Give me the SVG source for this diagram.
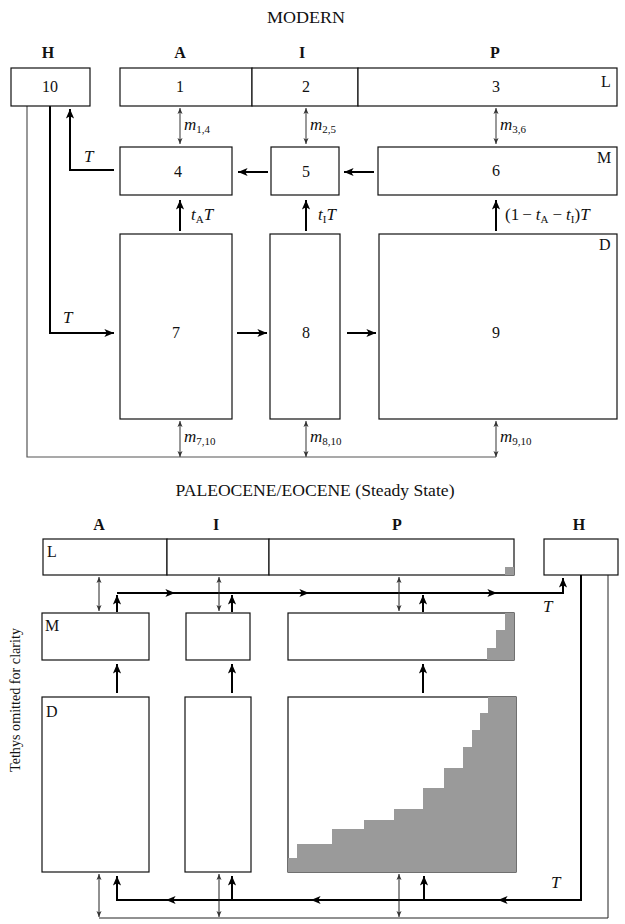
<svg xmlns="http://www.w3.org/2000/svg" width="625" height="924" viewBox="0 0 625 924">
<style>
text{font-family:"Liberation Serif","DejaVu Serif",serif;fill:#111}
.t{font-size:17px;text-anchor:middle}
.h{font-size:16px;font-weight:bold;text-anchor:middle}
.n{font-size:16px;text-anchor:middle}
.c{font-size:16px}
.m{font-size:17px}
.i{font-style:italic}
.s{font-size:11px}
.box{fill:#fff;stroke:#111;stroke-width:1.2}
.thick{fill:none;stroke:#000;stroke-width:2}
.thin{fill:none;stroke:#555;stroke-width:1.2}
.thinb{fill:none;stroke:#222;stroke-width:1}
.g{fill:#9a9a9a;stroke:none}
</style>
<defs>
<marker id="ah" markerUnits="userSpaceOnUse" markerWidth="12" markerHeight="10" refX="8" refY="4" orient="auto-start-reverse" viewBox="0 0 10 8">
<path d="M0,0.6 L8,4 L0,7.4 L2,4 Z" fill="#000"/>
</marker>
<marker id="sh" markerUnits="userSpaceOnUse" markerWidth="8" markerHeight="6" refX="5" refY="2.5" orient="auto-start-reverse" viewBox="0 0 6 5">
<path d="M0,0.4 L5,2.5 L0,4.6 L1.3,2.5 Z" fill="#333"/>
</marker>
</defs>

<!-- ===== MODERN ===== -->
<text class="t" x="306" y="23" textLength="78" lengthAdjust="spacingAndGlyphs">MODERN</text>
<g id="headers-top">
<text class="h" x="48" y="58">H</text>
<text class="h" x="180" y="58">A</text>
<text class="h" x="302" y="58">I</text>
<text class="h" x="495" y="58">P</text>
</g>

<g id="connectors-top">
<path class="thin" d="M27,106 V457 H496"/>
<path class="thick" d="M114,170 H70 V109" marker-end="url(#ah)"/>
<path class="thick" d="M50,106 V333 H114" marker-end="url(#ah)"/>
<path class="thick" d="M268,172 H238" marker-end="url(#ah)"/>
<path class="thick" d="M374,172 H344" marker-end="url(#ah)"/>
<path class="thick" d="M237,333 H267" marker-end="url(#ah)"/>
<path class="thick" d="M347,333 H376" marker-end="url(#ah)"/>
<path class="thick" d="M180,231 V200" marker-end="url(#ah)"/>
<path class="thick" d="M306,231 V200" marker-end="url(#ah)"/>
<path class="thick" d="M496,231 V200" marker-end="url(#ah)"/>
<path class="thin" d="M180,108 V144" marker-start="url(#sh)" marker-end="url(#sh)"/>
<path class="thin" d="M306,108 V144" marker-start="url(#sh)" marker-end="url(#sh)"/>
<path class="thin" d="M496,108 V144" marker-start="url(#sh)" marker-end="url(#sh)"/>
<path class="thin" d="M180,421 V457" marker-start="url(#sh)" marker-end="url(#sh)"/>
<path class="thin" d="M306,421 V457" marker-start="url(#sh)" marker-end="url(#sh)"/>
<path class="thin" d="M496,421 V457" marker-start="url(#sh)" marker-end="url(#sh)"/>
<text class="m i" x="84" y="162">T</text>
<text class="m i" x="63" y="323">T</text>
<text class="m" x="184" y="130"><tspan class="i">m</tspan><tspan class="s" dy="3">1,4</tspan></text>
<text class="m" x="310" y="130"><tspan class="i">m</tspan><tspan class="s" dy="3">2,5</tspan></text>
<text class="m" x="500" y="130"><tspan class="i">m</tspan><tspan class="s" dy="3">3,6</tspan></text>
<text class="m" x="184" y="442"><tspan class="i">m</tspan><tspan class="s" dy="3">7,10</tspan></text>
<text class="m" x="310" y="442"><tspan class="i">m</tspan><tspan class="s" dy="3">8,10</tspan></text>
<text class="m" x="500" y="442"><tspan class="i">m</tspan><tspan class="s" dy="3">9,10</tspan></text>
<text class="m" x="191" y="220"><tspan class="i">t</tspan><tspan class="s" dy="3">A</tspan><tspan class="i" dy="-3">T</tspan></text>
<text class="m" x="318" y="220"><tspan class="i">t</tspan><tspan class="s" dy="3">I</tspan><tspan class="i" dy="-3">T</tspan></text>
<text class="m" x="505" y="220">(1<tspan dx="3">−</tspan><tspan class="i" dx="4">t</tspan><tspan class="s" dy="3">A</tspan><tspan dx="4" dy="-3">−</tspan><tspan class="i" dx="4">t</tspan><tspan class="s" dy="3">I</tspan><tspan dy="-3">)</tspan><tspan class="i">T</tspan></text>
</g>

<g id="n10"><rect class="box" x="11" y="68" width="79" height="38"/><text class="n" x="50" y="92">10</text></g>
<g id="n1"><rect class="box" x="120" y="68" width="132" height="38"/><text class="n" x="180" y="92">1</text></g>
<g id="n2"><rect class="box" x="252" y="68" width="106" height="38"/><text class="n" x="306" y="92">2</text></g>
<g id="n3"><rect class="box" x="358" y="68" width="259" height="38"/><text class="n" x="496" y="92">3</text><text class="c" x="601" y="87">L</text></g>
<g id="n4"><rect class="box" x="120" y="147" width="112" height="48"/><text class="n" x="178" y="177">4</text></g>
<g id="n5"><rect class="box" x="271" y="147" width="68" height="48"/><text class="n" x="306" y="177">5</text></g>
<g id="n6"><rect class="box" x="378" y="147" width="239" height="48"/><text class="n" x="496" y="176">6</text><text class="c" x="597" y="163">M</text></g>
<g id="n7"><rect class="box" x="120" y="234" width="112" height="185"/><text class="n" x="176" y="338">7</text></g>
<g id="n8"><rect class="box" x="270" y="234" width="70" height="185"/><text class="n" x="306" y="338">8</text></g>
<g id="n9"><rect class="box" x="379" y="234" width="238" height="185"/><text class="n" x="496" y="338">9</text><text class="c" x="599" y="250">D</text></g>

<!-- ===== PALEOCENE/EOCENE ===== -->
<text class="t" x="315" y="496" textLength="279" lengthAdjust="spacingAndGlyphs">PALEOCENE/EOCENE (Steady State)</text>
<g id="headers-bottom">
<text class="h" x="99" y="530">A</text>
<text class="h" x="216" y="530">I</text>
<text class="h" x="397" y="530">P</text>
<text class="h" x="579" y="530">H</text>
</g>
<text font-size="14" text-anchor="middle" textLength="144" lengthAdjust="spacingAndGlyphs" transform="translate(20,700) rotate(-90)">Tethys omitted for clarity</text>

<g id="bA-L"><rect class="box" x="43" y="539" width="124" height="36"/><text class="c" x="47" y="557">L</text></g>
<g id="bI-L"><rect class="box" x="167" y="539" width="102" height="36"/></g>
<g id="bP-L"><rect class="box" x="269" y="539" width="245" height="36"/><rect class="g" x="505" y="567" width="9" height="8"/></g>
<g id="bH"><rect class="box" x="544" y="539" width="74" height="36"/></g>
<g id="bA-M"><rect class="box" x="42" y="613" width="107" height="47"/><text class="c" x="45" y="631">M</text></g>
<g id="bI-M"><rect class="box" x="186" y="613" width="64" height="47"/></g>
<g id="bP-M"><rect class="box" x="288" y="613" width="226" height="47"/><path class="g" d="M505,613 H514 V660 H487 V648 H496 V630 H505 Z"/></g>
<g id="bA-D"><rect class="box" x="42" y="697" width="107" height="175"/><text class="c" x="46" y="717">D</text></g>
<g id="bI-D"><rect class="box" x="185" y="697" width="66" height="175"/></g>
<g id="bP-D"><rect class="box" x="288" y="697" width="228" height="175"/><path class="g" d="M516,697 H488 V713 H480 V730 H472 V747 H463 V768 H444 V788 H423 V809 H394 V820 H364 V829 H332 V844 H297 V858 H288 V872 H516 Z"/></g>

<g id="connectors-bottom">
<path class="thick" d="M117,593 H563 V578" marker-end="url(#ah)"/>
<path class="thick" d="M117,612 V595" marker-end="url(#ah)"/>
<path class="thick" d="M232,612 V595" marker-end="url(#ah)"/>
<path class="thick" d="M423,612 V595" marker-end="url(#ah)"/>
<path class="thick" d="M160,593 H175" marker-end="url(#ah)"/>
<path class="thick" d="M294,593 H309" marker-end="url(#ah)"/>
<path class="thick" d="M482,593 H497" marker-end="url(#ah)"/>
<path class="thinb" d="M99,577 V611" marker-start="url(#sh)" marker-end="url(#sh)"/>
<path class="thinb" d="M219,577 V611" marker-start="url(#sh)" marker-end="url(#sh)"/>
<path class="thinb" d="M399,577 V611" marker-start="url(#sh)" marker-end="url(#sh)"/>
<path class="thick" d="M117,693 V664" marker-end="url(#ah)"/>
<path class="thick" d="M232,693 V664" marker-end="url(#ah)"/>
<path class="thick" d="M423,693 V664" marker-end="url(#ah)"/>
<path class="thick" d="M581,575 V900 H117 V876" marker-end="url(#ah)"/>
<path class="thick" d="M232,900 V876" marker-end="url(#ah)"/>
<path class="thick" d="M424,900 V876" marker-end="url(#ah)"/>
<path class="thick" d="M512,900 H498" marker-end="url(#ah)"/>
<path class="thick" d="M325,900 H311" marker-end="url(#ah)"/>
<path class="thick" d="M180,900 H166" marker-end="url(#ah)"/>
<path class="thinb" d="M608,575 V918 H99"/>
<path class="thinb" d="M99,874 V917" marker-start="url(#sh)" marker-end="url(#sh)"/>
<path class="thinb" d="M219,874 V917" marker-start="url(#sh)" marker-end="url(#sh)"/>
<path class="thinb" d="M399,874 V917" marker-start="url(#sh)" marker-end="url(#sh)"/>
<text class="m i" x="543" y="612">T</text>
<text class="m i" x="551" y="888">T</text>
</g>
</svg>
